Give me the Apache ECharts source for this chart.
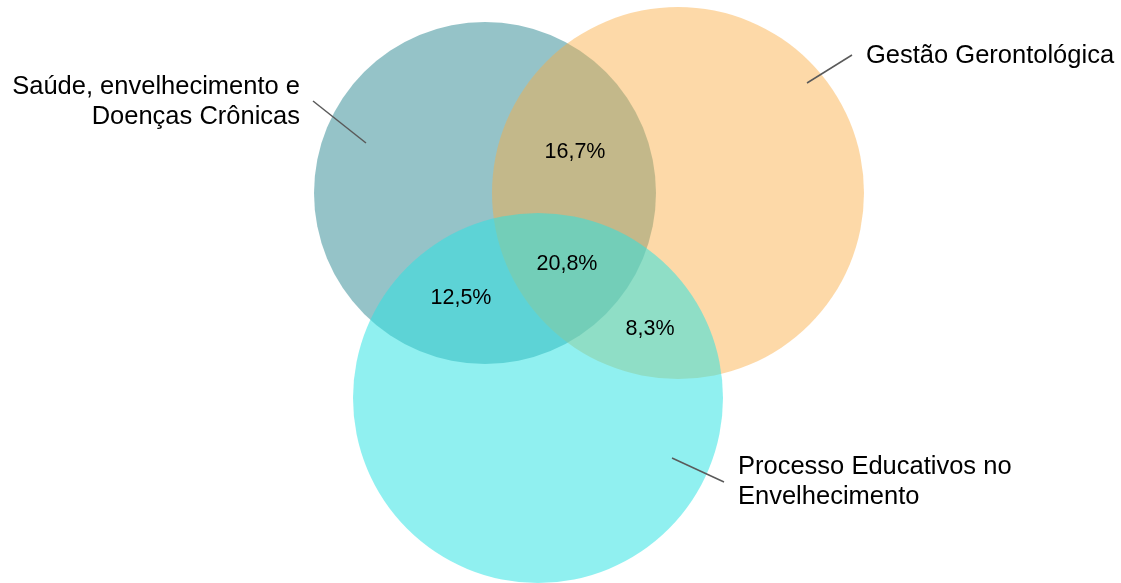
<!DOCTYPE html>
<html>
<head>
<meta charset="utf-8">
<script src="https://cdn.jsdelivr.net/npm/echarts@6/dist/echarts.min.js"></script>
<style>
html,body{margin:0;padding:0;background:#fff;}
#chart{width:1121px;height:583px;}
</style>
</head>
<body>
<div id="chart"></div>
<script>
// Sets (Venn circles) in chart units
const setNames = ['Saúde, envelhecimento e\nDoenças Crônicas', 'Gestão Gerontológica', 'Processo Educativos no\nEnvelhecimento'];
const setCenterX = [485, 678, 538];
const setCenterY = [193, 193, 398];
const setRadius = [171, 186, 185];

// Overlap percentages
const overlapLabels = ['16,7%', '20,8%', '12,5%', '8,3%'];
const overlapX = [575, 567, 461, 650];
const overlapY = [152, 264, 298, 329];

// Set name labels and leader lines
const labelX = [300, 866, 738];
const labelY = [102, 56, 482];
const labelAlign = ['right', 'left', 'left'];
const leaderFrom = [[313, 101], [852, 55], [724, 482]];
const leaderTo = [[366, 143], [807, 83], [672, 458]];

const colors = ['rgba(43,135,145,0.5)', 'rgba(251,172,66,0.46)', 'rgba(42,226,226,0.52)'];
const font = '"Liberation Sans", Arial, Helvetica, sans-serif';

const chart = echarts.init(document.getElementById('chart'), null, {renderer: 'canvas'});

const circleData = setNames.map((n, i) => [setCenterX[i], setCenterY[i], setRadius[i], i]);
const overlapData = overlapLabels.map((l, i) => [overlapX[i], overlapY[i], l]);
const leaderData = leaderFrom.map((f, i) => [f[0], f[1], leaderTo[i][0], leaderTo[i][1]]);
const nameData = setNames.map((n, i) => [labelX[i], labelY[i], n, i]);

chart.setOption({
  animation: false,
  backgroundColor: '#fff',
  grid: {left: 0, top: 0, width: 1121, height: 583},
  xAxis: {type: 'value', min: 0, max: 1121, show: false},
  yAxis: {type: 'value', min: 0, max: 583, inverse: true, show: false},
  series: [
    {
      type: 'custom',
      data: circleData,
      renderItem: function (params, api) {
        const c = api.coord([api.value(0), api.value(1)]);
        const r = api.size([api.value(2), 0])[0];
        return {
          type: 'circle',
          shape: {cx: c[0], cy: c[1], r: r},
          style: {fill: colors[api.value(3)], stroke: null}
        };
      },
      z: 1
    },
    {
      type: 'custom',
      data: leaderData,
      renderItem: function (params, api) {
        const a = api.coord([api.value(0), api.value(1)]);
        const b = api.coord([api.value(2), api.value(3)]);
        return {
          type: 'line',
          shape: {x1: a[0], y1: a[1], x2: b[0], y2: b[1]},
          style: {stroke: '#5a5a5a', lineWidth: 1.5}
        };
      },
      z: 2
    },
    {
      type: 'custom',
      data: overlapData,
      renderItem: function (params, api) {
        const c = api.coord([api.value(0), api.value(1)]);
        return {
          type: 'text',
          x: c[0], y: c[1],
          style: {
            text: overlapLabels[params.dataIndex],
            fill: '#000',
            font: '21.5px ' + font,
            align: 'center',
            verticalAlign: 'middle'
          }
        };
      },
      z: 3
    },
    {
      type: 'custom',
      data: nameData,
      renderItem: function (params, api) {
        const c = api.coord([api.value(0), api.value(1)]);
        const i = params.dataIndex;
        return {
          type: 'text',
          x: c[0], y: c[1],
          style: {
            text: setNames[i],
            fill: '#000',
            font: '25.5px ' + font,
            lineHeight: 30,
            align: labelAlign[i],
            verticalAlign: 'middle'
          }
        };
      },
      z: 3
    }
  ]
});
</script>
</body>
</html>
